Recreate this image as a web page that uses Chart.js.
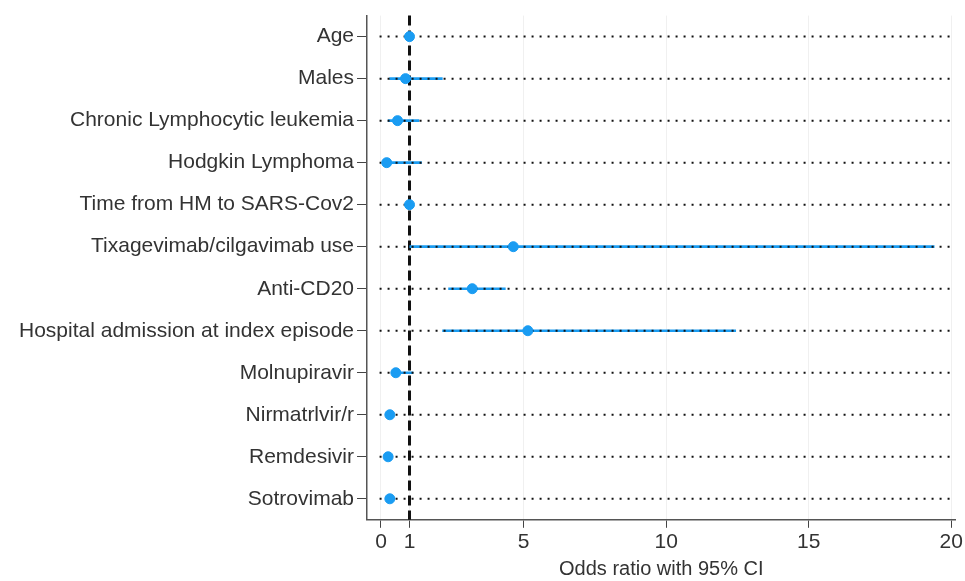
<!DOCTYPE html>
<html>
<head>
<meta charset="utf-8">
<script src="https://cdn.jsdelivr.net/npm/chart.js@4/dist/chart.umd.min.js"></script>
<style>
  html, body { margin: 0; padding: 0; background: #fff; }
  #wrap { width: 965px; height: 581px; }
</style>
</head>
<body>
<div id="wrap"><canvas id="myChart"></canvas></div>
<script>
  const categories = ['Age', 'Males', 'Chronic Lymphocytic leukemia', 'Hodgkin Lymphoma',
    'Time from HM to SARS-Cov2', 'Tixagevimab/cilgavimab use', 'Anti-CD20',
    'Hospital admission at index episode', 'Molnupiravir', 'Nirmatrlvir/r',
    'Remdesivir', 'Sotrovimab']
  const oddsRatio = [1.0, 0.86, 0.58, 0.2, 1.0, 4.64, 3.2, 5.15, 0.52, 0.31, 0.25, 0.31]
  const ciLow = [0.97, 0.3, 0.25, 0.05, 0.98, 1.01, 2.37, 2.16, 0.37, 0.22, 0.2, 0.18]
  const ciHigh = [1.03, 2.15, 1.33, 1.42, 1.02, 19.4, 4.36, 12.44, 1.12, 0.42, 0.3, 0.48]
  const xTicks = [0, 1, 5, 10, 15, 20]
  const refLine = 1

  const blue = '#1a9cf2'

  // vertical dashed reference line at OR = 1
  const refPlugin = {
    id: 'refLine',
    beforeDatasetsDraw: (chart) => {
      const {ctx, chartArea, scales} = chart
      const x = scales.x.getPixelForValue(refLine)
      ctx.save()
      ctx.strokeStyle = '#111'
      ctx.lineWidth = 3
      ctx.setLineDash([10, 5])
      ctx.beginPath()
      ctx.moveTo(x, chartArea.top)
      ctx.lineTo(x, chartArea.bottom)
      ctx.stroke()
      ctx.restore()
    }
  }

  const dottedSets = categories.map(c => ({
    type: 'scatter',
    data: [{x: -0.05, y: c}, {x: 20.15, y: c}],
    showLine: true,
    borderColor: '#111',
    borderWidth: 2,
    borderDash: [2, 6],
    pointRadius: 0,
    order: 2
  }))

  let myChart = new Chart(document.getElementById('myChart'), {
    type: 'scatter',
    data: {
      labels: categories,
      datasets: [
        {
          type: 'bar',
          indexAxis: 'y',
          data: categories.map((c, i) => [ciLow[i], ciHigh[i]]),
          backgroundColor: blue,
          barThickness: 2,
          order: 3
        },
        ...dottedSets,
        {
          type: 'scatter',
          data: categories.map((c, i) => ({x: oddsRatio[i], y: c})),
          backgroundColor: blue,
          borderColor: blue,
          pointRadius: 5,
          pointHoverRadius: 5,
          order: 1
        }
      ]
    },
    plugins: [refPlugin],
    options: {
      responsive: true,
      maintainAspectRatio: false,
      animation: false,
      layout: {padding: {top: 13, right: -3, bottom: 0, left: 16}},
      plugins: {
        legend: {display: false},
        tooltip: {enabled: false}
      },
      scales: {
        x: {
          type: 'linear',
          min: -0.49,
          max: 20.15,
          afterBuildTicks: (axis) => { axis.ticks = xTicks.map(v => ({value: v})) },
          grid: {color: '#f0f0f0', tickColor: '#444', tickLength: 8, lineWidth: 1},
          border: {color: '#555', width: 1.5},
          ticks: {color: '#333', font: {family: 'Liberation Sans', size: 21}, padding: 2},
          title: {
            display: true,
            text: 'Odds ratio with 95% CI',
            color: '#333',
            font: {family: 'Liberation Sans', size: 20},
            padding: {top: 0, bottom: 0}
          }
        },
        y: {
          type: 'category',
          labels: categories,
          offset: true,
          grid: {drawOnChartArea: false, offset: false, tickColor: '#444', tickLength: 10},
          border: {color: '#555', width: 1.5},
          ticks: {color: '#333', font: {family: 'Liberation Sans', size: 21}, padding: 3}
        }
      }
    }
  })
</script>
</body>
</html>
